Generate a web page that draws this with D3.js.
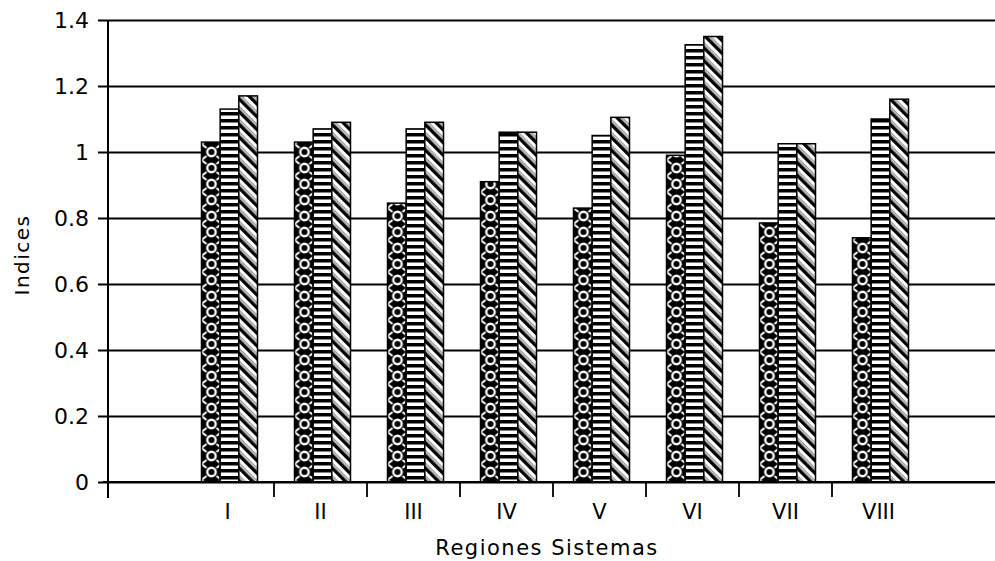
<!DOCTYPE html>
<html>
<head>
<meta charset="utf-8">
<script src="https://cdn.jsdelivr.net/npm/d3@7"></script>
<style>
    body { margin: 0; background: #fff; }
    text { font-family: "DejaVu Sans", sans-serif; fill: #000; }
</style>
</head>
<body>
<div id="chart"></div>
<script>
    // data
    var regiones = ["I", "II", "III", "IV", "V", "VI", "VII", "VIII"];
    var serieA = [1.03, 1.03, 0.845, 0.91, 0.83, 0.99, 0.785, 0.74];
    var serieB = [1.13, 1.07, 1.07, 1.06, 1.05, 1.325, 1.025, 1.10];
    var serieC = [1.17, 1.09, 1.09, 1.06, 1.105, 1.35, 1.025, 1.16];
    var yTicks = [0, 0.2, 0.4, 0.6, 0.8, 1, 1.2, 1.4];
    var keys = ["a", "b", "c"];

    var width = 995, height = 561;
    var margin = {top: 20, left: 108, bottom: 79};

    var svg = d3.select("#chart").append("svg")
        .attr("width", width)
        .attr("height", height);

    // fill patterns like the old print
    var defs = svg.append("defs");

    var pa = defs.append("pattern").attr("id", "pat-a")
        .attr("patternUnits", "userSpaceOnUse")
        .attr("width", 20).attr("height", 16);
    pa.append("rect").attr("width", 20).attr("height", 16).attr("fill", "#000");
    pa.append("circle").attr("cx", 10).attr("cy", 8).attr("r", 4.2)
        .attr("fill", "none").attr("stroke", "#fff").attr("stroke-width", 2.4);
    pa.append("path").attr("d", "M0,0 L5,4 M20,0 L15,4 M0,16 L5,12 M20,16 L15,12")
        .attr("stroke", "#fff").attr("stroke-width", 2);

    var pb = defs.append("pattern").attr("id", "pat-b")
        .attr("patternUnits", "userSpaceOnUse")
        .attr("width", 10).attr("height", 7);
    pb.append("rect").attr("width", 10).attr("height", 7).attr("fill", "#fff");
    pb.append("rect").attr("y", 0).attr("width", 10).attr("height", 3.5).attr("fill", "#000");

    var pc = defs.append("pattern").attr("id", "pat-c")
        .attr("patternUnits", "userSpaceOnUse")
        .attr("width", 9).attr("height", 9)
        .attr("patternTransform", "rotate(-45)");
    pc.append("rect").attr("width", 9).attr("height", 9).attr("fill", "#fff");
    pc.append("rect").attr("x", 4.5).attr("width", 1.5).attr("height", 9).attr("fill", "#999");
    pc.append("rect").attr("width", 3.5).attr("height", 9).attr("fill", "#000");

    var fills = {a: "url(#pat-a)", b: "url(#pat-b)", c: "url(#pat-c)"};

    // scales
    var x0 = d3.scaleBand().domain(regiones).range([181, 925]);
    var x1 = d3.scaleBand().domain(keys).range([0, 56]);
    var y = d3.scaleLinear().domain([0, 1.4]).range([height - margin.bottom, margin.top]);
    var y0 = y(0);

    // gridlines
    svg.append("g")
        .attr("class", "grid")
        .attr("transform", "translate(" + margin.left + ",0)")
        .call(d3.axisRight(y).tickValues(yTicks).tickSize(width - margin.left).tickFormat(""))
        .call(function(g) {
            g.select(".domain").remove();
            g.selectAll("line").attr("stroke", "#000").attr("stroke-width", 2);
        });

    // bars
    var data = regiones.map(function(r, i) {
        return {region: r, a: serieA[i], b: serieB[i], c: serieC[i]};
    });

    var group = svg.selectAll(".region")
        .data(data)
        .enter().append("g")
        .attr("class", "region")
        .attr("transform", function(d) {
            return "translate(" + (x0(d.region) + x0.bandwidth() / 2 - 26) + ",0)";
        });

    group.selectAll("rect")
        .data(function(d) { return keys.map(function(k) { return {key: k, value: d[k]}; }); })
        .enter().append("rect")
        .attr("x", function(d) { return x1(d.key); })
        .attr("y", function(d) { return y(d.value); })
        .attr("width", x1.bandwidth())
        .attr("height", function(d) { return y0 - y(d.value); })
        .attr("fill", function(d) { return fills[d.key]; })
        .attr("stroke", "#000")
        .attr("stroke-width", 1.5);

    // y axis
    svg.append("g")
        .attr("transform", "translate(" + margin.left + ",0)")
        .call(d3.axisLeft(y).tickValues(yTicks).tickSize(10).tickPadding(9)
            .tickFormat(function(d) { return String(+d.toFixed(1)); }))
        .call(function(g) {
            g.select(".domain").attr("stroke", "#000").attr("stroke-width", 2)
                .attr("d", "M0," + margin.top + "V" + (y0 + 16));
            g.selectAll("line").attr("stroke", "#000").attr("stroke-width", 2);
            g.selectAll("text").style("font-size", "22px").style("font-family", "DejaVu Sans, sans-serif");
        });

    // x axis
    svg.append("line")
        .attr("x1", margin.left - 5).attr("x2", width)
        .attr("y1", y0).attr("y2", y0)
        .attr("stroke", "#000").attr("stroke-width", 2);

    svg.selectAll(".xtick")
        .data(regiones.slice(1))
        .enter().append("line")
        .attr("class", "xtick")
        .attr("x1", function(d) { return x0(d); })
        .attr("x2", function(d) { return x0(d); })
        .attr("y1", y0).attr("y2", y0 + 15)
        .attr("stroke", "#000").attr("stroke-width", 1.8);

    svg.selectAll(".xlabel")
        .data(regiones)
        .enter().append("text")
        .attr("class", "xlabel")
        .attr("x", function(d) { return x0(d) + x0.bandwidth() / 2; })
        .attr("y", y0 + 37)
        .attr("text-anchor", "middle")
        .style("font-size", "21px")
        .text(function(d) { return d; });

    // axis titles
    svg.append("text")
        .attr("x", 547).attr("y", 555)
        .attr("text-anchor", "middle")
        .style("font-size", "21px")
        .style("letter-spacing", "1.5px")
        .text("Regiones Sistemas");

    svg.append("text")
        .attr("transform", "translate(29,255) rotate(-90)")
        .attr("text-anchor", "middle")
        .style("font-size", "20px")
        .style("letter-spacing", "1.5px")
        .text("Indices");
</script>
</body>
</html>
